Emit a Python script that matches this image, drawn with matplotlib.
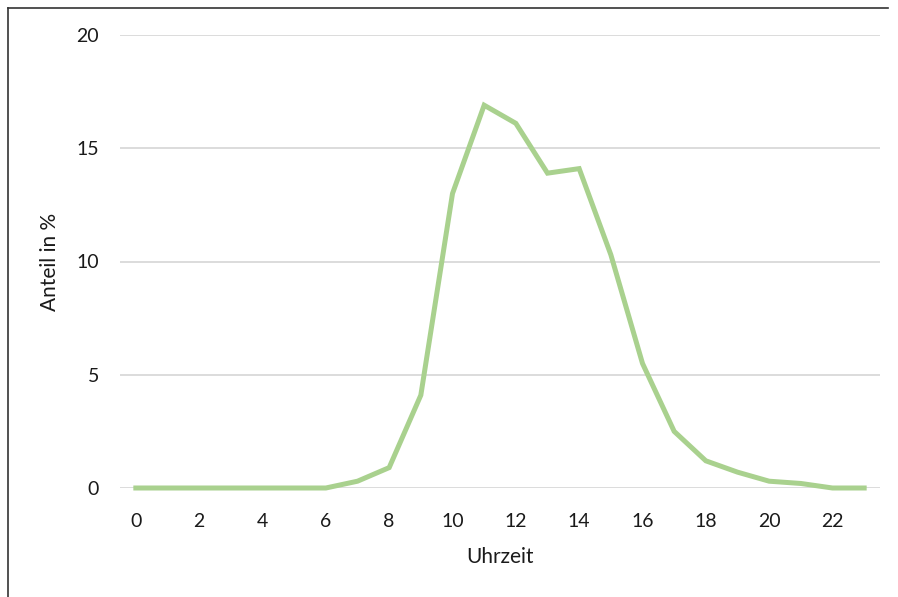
import matplotlib.pyplot as plt
from matplotlib.lines import Line2D

# Anteil in % je Uhrzeit
hours = list(range(24))
share = [0, 0, 0, 0, 0, 0, 0, 0.3, 0.9, 4.1, 13.0, 16.9, 16.1, 13.9,
         14.1, 10.3, 5.5, 2.5, 1.2, 0.7, 0.3, 0.2, 0.0, 0.0]
x_ticks = list(range(0, 23, 2))
y_ticks = [0, 5, 10, 15, 20]

plt.rcParams['font.family'] = ['Lato', 'DejaVu Sans']

fig = plt.figure(figsize=(8.98, 5.97), dpi=100)
ax = fig.add_axes([120 / 898, 1 - 488 / 597, 760 / 898, 453 / 597])

ax.plot(hours, share, color='#a9d18e', linewidth=3.6, solid_joinstyle='miter',
        zorder=3, clip_on=False)

ax.set_xlim(-0.5, 23.5)
ax.set_ylim(0, 20)
ax.set_xticks(x_ticks)
ax.set_yticks(y_ticks)
ax.tick_params(length=0, labelsize=14, colors='#1a1a1a')
ax.tick_params(axis='x', pad=18)
ax.tick_params(axis='y', pad=15)
ax.grid(axis='y', color='#d9d9d9', linewidth=1.3)
ax.set_axisbelow(True)
for s in ax.spines.values():
    s.set_visible(False)

ax.set_xlabel('Uhrzeit', fontsize=15, color='#1a1a1a', labelpad=12)
ax.set_ylabel('Anteil in %', fontsize=15, color='#1a1a1a', labelpad=12)

# frame lines at top and left of the image
fig.add_artist(Line2D([8 / 898, 888 / 898], [1 - 8 / 597, 1 - 8 / 597],
                      color='#333333', linewidth=1.2))
fig.add_artist(Line2D([8 / 898, 8 / 898], [0, 1 - 8 / 597],
                      color='#333333', linewidth=1.2))

fig.savefig('out.png', dpi=100)
